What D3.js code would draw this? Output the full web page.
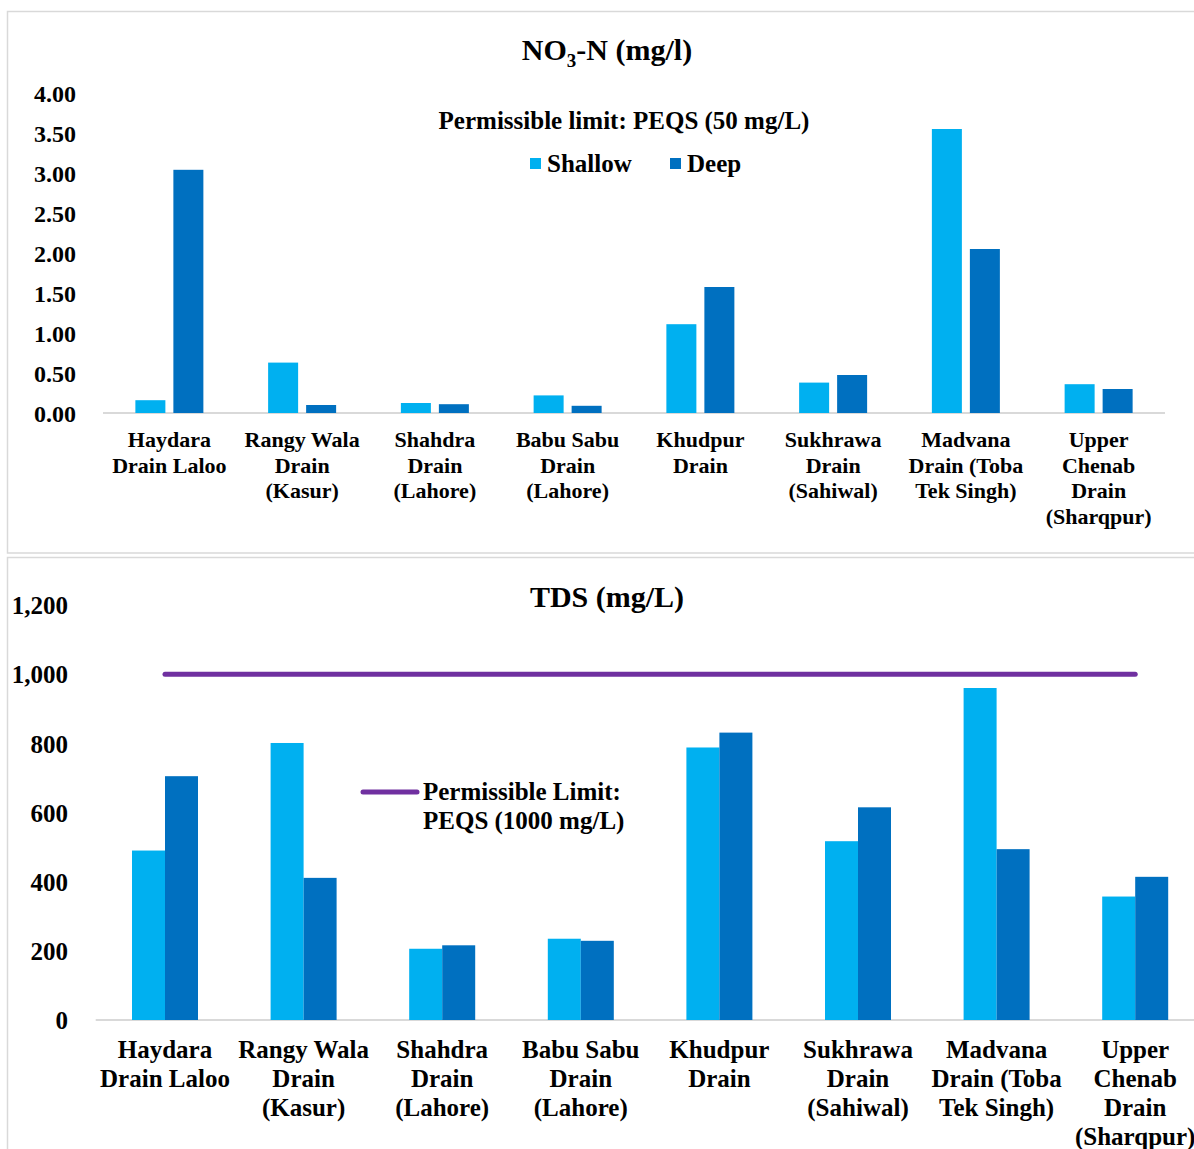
<!DOCTYPE html>
<html><head><meta charset="utf-8">
<script src="https://cdn.jsdelivr.net/npm/d3@7"></script>
<style>html,body{margin:0;padding:0;background:#fff;} svg{display:block;} text{font-family:"Liberation Serif","Times New Roman",serif;font-weight:bold;fill:#000;}</style>
</head><body>
<svg id="c" width="1194" height="1149"></svg>
<script>
const categories = ["Haydara Drain Laloo","Rangy Wala Drain (Kasur)","Shahdra Drain (Lahore)","Babu Sabu Drain (Lahore)","Khudpur Drain","Sukhrawa Drain (Sahiwal)","Madvana Drain (Toba Tek Singh)","Upper Chenab Drain (Sharqpur)"];
const categoryLines = [["Haydara","Drain Laloo"],["Rangy Wala","Drain","(Kasur)"],["Shahdra","Drain","(Lahore)"],["Babu Sabu","Drain","(Lahore)"],["Khudpur","Drain"],["Sukhrawa","Drain","(Sahiwal)"],["Madvana","Drain (Toba","Tek Singh)"],["Upper","Chenab","Drain","(Sharqpur)"]];
const seriesNames = ["Shallow","Deep"];
const no3Shallow = [0.16, 0.63, 0.125, 0.22, 1.11, 0.38, 3.55, 0.36];
const no3Deep    = [3.04, 0.10, 0.11, 0.09, 1.575, 0.475, 2.05, 0.30];
const tdsShallow = [490, 801, 206, 235, 788, 517, 960, 357];
const tdsDeep    = [705, 411, 216, 229, 831, 615, 494, 414];
const tdsLimit = 1000;
const no3Ticks = [0, 0.5, 1, 1.5, 2, 2.5, 3, 3.5, 4];
const tdsTicks = [0, 200, 400, 600, 800, 1000, 1200];
const colors = {Shallow:"#00B0F0", Deep:"#0070C0"};
const limitColor = "#7030A0";

const svg = d3.select("#c");
// panel borders
svg.append("rect").attr("x",7.5).attr("y",11.5).attr("width",1200).attr("height",541.5).attr("fill","none").attr("stroke","#d9d9d9").attr("stroke-width",1.5);
svg.append("rect").attr("x",7.5).attr("y",557.5).attr("width",1200).attr("height",700).attr("fill","none").attr("stroke","#d9d9d9").attr("stroke-width",1.5);

// ---------- Top chart: NO3-N ----------
{
  const x = d3.scaleBand().domain(categories).range([103,1165]);
  const xi = d3.scaleBand().domain(seriesNames).range([-34,34]).paddingInner(8/38);
  const y = d3.scaleLinear().domain([0,4]).range([413,93]);
  const g = svg.append("g");
  const t = g.append("text").attr("x",607).attr("y",60).attr("text-anchor","middle").style("font-size","30px");
  t.append("tspan").text("NO");
  t.append("tspan").attr("dy",7).style("font-size","19px").text("3");
  t.append("tspan").attr("dy",-7).text("-N (mg/l)");

  const yAxis = d3.axisLeft(y).tickValues(no3Ticks).tickFormat(d3.format(".2f")).tickSize(0).tickPadding(0);
  const ya = g.append("g").attr("transform","translate(76,0)").call(yAxis);
  ya.attr("font-family",null);
  ya.select(".domain").remove();
  ya.selectAll("text").style("font-size","24px").style("font-family","Liberation Serif").attr("dy","0.35em");

  g.append("line").attr("x1",103).attr("x2",1165).attr("y1",413).attr("y2",413).attr("stroke","#d9d9d9").attr("stroke-width",2);

  const data = categories.map((c,i)=>({c, vals:[{s:"Shallow",v:no3Shallow[i]},{s:"Deep",v:no3Deep[i]}]}));
  const grp = g.selectAll("g.cat").data(data).join("g").attr("class","cat").attr("transform",d=>`translate(${x(d.c)+x.bandwidth()/2},0)`);
  grp.selectAll("rect").data(d=>d.vals).join("rect")
    .attr("x",d=>xi(d.s)).attr("width",xi.bandwidth())
    .attr("y",d=>y(d.v)).attr("height",d=>y(0)-y(d.v)).attr("fill",d=>colors[d.s]);

  categories.forEach((c,i)=>{
    const tx = g.append("text").attr("x",x(c)+x.bandwidth()/2).attr("y",447).attr("text-anchor","middle").style("font-size","22px");
    categoryLines[i].forEach((ln,j)=>tx.append("tspan").attr("x",x(c)+x.bandwidth()/2).attr("dy",j?25.5:0).text(ln));
  });

  g.append("text").attr("x",624).attr("y",129).attr("text-anchor","middle").style("font-size","25px").text("Permissible limit: PEQS (50 mg/L)");
  const leg = [{s:"Shallow",x:530},{s:"Deep",x:670}];
  leg.forEach(l=>{
    g.append("rect").attr("x",l.x).attr("y",158).attr("width",11).attr("height",11).attr("fill",colors[l.s]);
    g.append("text").attr("x",l.x+17).attr("y",172).style("font-size","25px").text(l.s);
  });
}

// ---------- Bottom chart: TDS ----------
{
  const x = d3.scaleBand().domain(categories).range([95.7,1204.5]);
  const xi = d3.scaleBand().domain(seriesNames).range([-33,33]);
  const y = d3.scaleLinear().domain([0,1200]).range([1020,605]);
  const g = svg.append("g");
  g.append("text").attr("x",607).attr("y",607).attr("text-anchor","middle").style("font-size","30px").text("TDS (mg/L)");

  const yAxis = d3.axisLeft(y).tickValues(tdsTicks).tickFormat(d3.format(",")).tickSize(0).tickPadding(0);
  const ya = g.append("g").attr("transform","translate(68,0)").call(yAxis);
  ya.attr("font-family",null);
  ya.select(".domain").remove();
  ya.selectAll("text").style("font-size","25px").style("font-family","Liberation Serif").attr("dy","0.35em");

  g.append("line").attr("x1",95.7).attr("x2",1204).attr("y1",1020).attr("y2",1020).attr("stroke","#d9d9d9").attr("stroke-width",2);

  const data = categories.map((c,i)=>({c, vals:[{s:"Shallow",v:tdsShallow[i]},{s:"Deep",v:tdsDeep[i]}]}));
  const grp = g.selectAll("g.cat").data(data).join("g").attr("class","cat").attr("transform",d=>`translate(${x(d.c)+x.bandwidth()/2},0)`);
  grp.selectAll("rect").data(d=>d.vals).join("rect")
    .attr("x",d=>xi(d.s)).attr("width",xi.bandwidth())
    .attr("y",d=>y(d.v)).attr("height",d=>y(0)-y(d.v)).attr("fill",d=>colors[d.s]);

  const line = d3.line().x(d=>x(d)+x.bandwidth()/2).y(()=>y(tdsLimit));
  g.append("path").attr("d",line(categories)).attr("fill","none").attr("stroke",limitColor).attr("stroke-width",5).attr("stroke-linecap","round");

  categories.forEach((c,i)=>{
    const tx = g.append("text").attr("x",x(c)+x.bandwidth()/2).attr("y",1058).attr("text-anchor","middle").style("font-size","25px");
    categoryLines[i].forEach((ln,j)=>tx.append("tspan").attr("x",x(c)+x.bandwidth()/2).attr("dy",j?29:0).text(ln));
  });

  g.append("line").attr("x1",363).attr("x2",417).attr("y1",792).attr("y2",792).attr("stroke",limitColor).attr("stroke-width",5).attr("stroke-linecap","round");
  const lt = g.append("text").attr("x",423).attr("y",800).style("font-size","25px");
  lt.append("tspan").attr("x",423).text("Permissible Limit:");
  lt.append("tspan").attr("x",423).attr("dy",29).text("PEQS (1000 mg/L)");
}
</script>
</body></html>
